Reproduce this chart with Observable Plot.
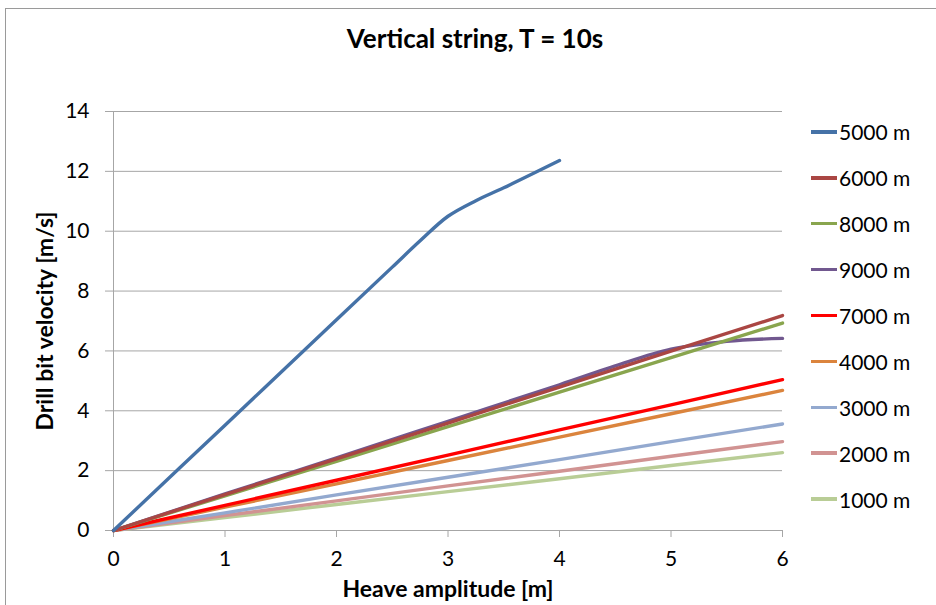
<!DOCTYPE html>
<html>
<head>
<meta charset="utf-8">
<script src="https://cdn.jsdelivr.net/npm/d3@7"></script>
<script src="https://cdn.jsdelivr.net/npm/@observablehq/plot@0.6"></script>
<style>
  html, body { margin: 0; padding: 0; background: #fff; }
  body { width: 936px; height: 605px; position: relative; overflow: hidden; font-family: Lato, "Open Sans", sans-serif; }
  #frame { position: absolute; left: 5px; top: 8px; width: 960px; height: 640px; border: 1px solid #9a9a9a; box-sizing: border-box; }
  #title { position: absolute; left: 0; width: 950px; top: 22px; text-align: center; font-weight: bold; font-size: 26px; color: #000; }
  #chart { position: absolute; left: 0; top: 0; }
  #legend { position: absolute; left: 811px; top: 109px; }
  .item { display: flex; align-items: center; height: 45.9px; font-size: 21px; color: #000; }
  .sw { width: 26px; height: 3.5px; margin-right: 2px; }
</style>
</head>
<body>
<div id="frame"></div>
<div id="title">Vertical string, T = 10s</div>
<div id="chart"></div>
<div id="legend"></div>
<script>
// Series names (legend order) and colours
const seriesNames = ["5000 m", "6000 m", "8000 m", "9000 m", "7000 m", "4000 m", "3000 m", "2000 m", "1000 m"];
const seriesColors = ["#4572A7", "#AA4643", "#89A54E", "#71588F", "#FF0000", "#DB843D", "#93A9CF", "#D19392", "#B9CD96"];

// Heave amplitude [m] per series and drill bit velocity [m/s]
const x5000 = [0, 1, 2, 2.5, 2.75, 3, 3.25, 3.5, 4];
const y5000 = [0, 3.52, 7.04, 8.8, 9.68, 10.5, 11.02, 11.45, 12.36];
const xLin = [0, 1, 2, 3, 4, 5, 6];
const y6000 = [0, 1.2, 2.39, 3.59, 4.79, 5.99, 7.18];
const y8000 = [0, 1.16, 2.31, 3.47, 4.62, 5.78, 6.93];
const x9000 = [0, 1, 2, 3, 4, 4.5, 5, 5.5, 6];
const y9000 = [0, 1.22, 2.43, 3.65, 4.87, 5.5, 6.06, 6.32, 6.42];
const y7000 = [0, 0.84, 1.68, 2.52, 3.36, 4.2, 5.04];
const y4000 = [0, 0.78, 1.56, 2.34, 3.12, 3.9, 4.68];
const y3000 = [0, 0.59, 1.19, 1.78, 2.37, 2.97, 3.56];
const y2000 = [0, 0.5, 0.99, 1.49, 1.98, 2.48, 2.97];
const y1000 = [0, 0.43, 0.87, 1.3, 1.73, 2.17, 2.6];

const xTicks = [0, 1, 2, 3, 4, 5, 6];
const yTicks = [0, 2, 4, 6, 8, 10, 12, 14];

const seriesX = [x5000, xLin, xLin, x9000, xLin, xLin, xLin, xLin, xLin];
const seriesY = [y5000, y6000, y8000, y9000, y7000, y4000, y3000, y2000, y1000];

const rows = [];
seriesNames.forEach((name, i) => {
  seriesX[i].forEach((xv, j) => rows.push({series: name, x: xv, y: seriesY[i][j]}));
});
// draw order: reverse legend order so 5000 is on top like Excel
const drawOrder = seriesNames.slice().reverse();

const grid = "#a6a6a6";
const chart = Plot.plot({
  width: 936,
  height: 605,
  marginLeft: 113,
  marginRight: 154,
  marginTop: 111,
  marginBottom: 75,
  style: {fontFamily: "Lato, 'Open Sans', sans-serif", fontSize: "21px", color: "#000", background: "transparent", overflow: "visible"},
  x: {domain: [0, 6], ticks: xTicks, label: null},
  y: {domain: [0, 14], ticks: yTicks, label: null},
  marks: [
    Plot.ruleY(yTicks.filter(d => d > 0), {stroke: grid, strokeWidth: 1}),
    Plot.ruleY([0], {stroke: grid, strokeWidth: 1}),
    Plot.ruleX([0], {stroke: grid, strokeWidth: 1}),
    Plot.axisX({ticks: xTicks, tickFormat: "d", tickSize: 7, tickPadding: 14, stroke: grid, label: null, fontSize: 21}),
    Plot.axisY({ticks: yTicks, tickFormat: "d", tickSize: 8, tickPadding: 16, stroke: grid, label: null, fontSize: 21}),
    ...drawOrder.map(name => Plot.line(rows.filter(r => r.series === name), {
      x: "x", y: "y", stroke: seriesColors[seriesNames.indexOf(name)], strokeWidth: 3.4,
      curve: name === "5000 m" || name === "9000 m" ? "catmull-rom" : "linear"
    })),
    Plot.text(["Heave amplitude [m]"], {frameAnchor: "bottom", textAnchor: "middle", dy: 66, fontWeight: "bold", fontSize: 23, text: d => d}),
    Plot.text(["Drill bit velocity [m/s]"], {frameAnchor: "left", textAnchor: "middle", dx: -68, rotate: -90, fontWeight: "bold", fontSize: 23, text: d => d})
  ]
});
document.getElementById("chart").appendChild(chart);

const legend = document.getElementById("legend");
seriesNames.forEach((name, i) => {
  const it = document.createElement("div");
  it.className = "item";
  const sw = document.createElement("div");
  sw.className = "sw";
  sw.style.background = seriesColors[i];
  const t = document.createElement("span");
  t.textContent = name;
  it.appendChild(sw); it.appendChild(t);
  legend.appendChild(it);
});
</script>
</body>
</html>
